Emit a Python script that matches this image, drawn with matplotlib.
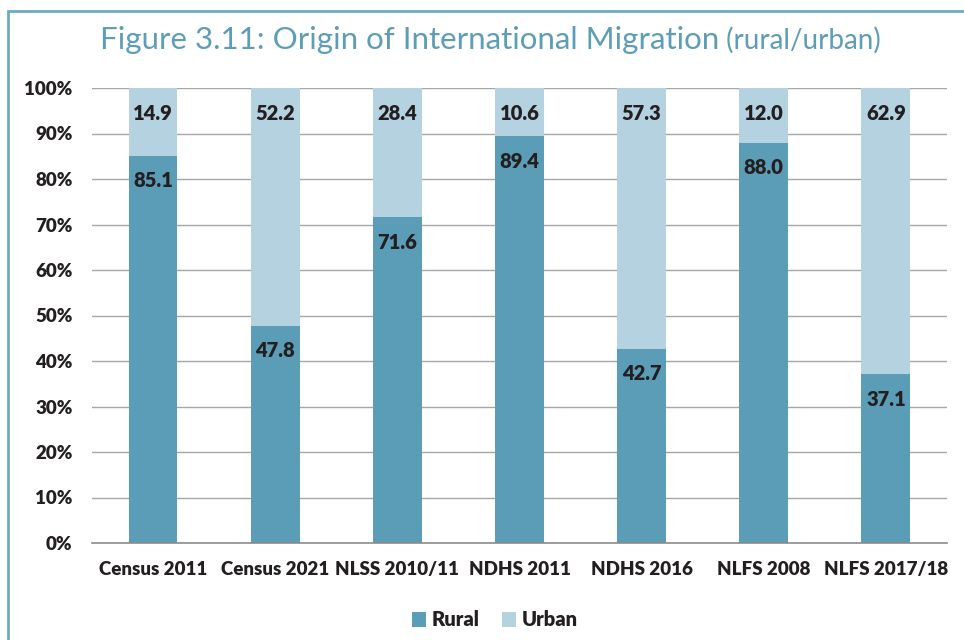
import numpy as np
import matplotlib.pyplot as plt
from matplotlib.patches import Rectangle

surveys = ["Census 2011", "Census 2021", "NLSS 2010/11", "NDHS 2011",
           "NDHS 2016", "NLFS 2008", "NLFS 2017/18"]
rural = [85.1, 47.8, 71.6, 89.4, 42.7, 88.0, 37.1]
urban = [14.9, 52.2, 28.4, 10.6, 57.3, 12.0, 62.9]

rural_color = "#5b9cb6"
urban_color = "#b5d2e1"
text_color = "#231f20"
teal = "#5e9db6"

plt.rcParams['font.family'] = ['Lato', 'DejaVu Sans']

fig = plt.figure(figsize=(9.64, 6.4), dpi=100)
ax = fig.add_axes([92 / 964, 1 - 543 / 640, 855 / 964, 455 / 640])

x = np.arange(len(surveys))
w = 0.40
b1 = ax.bar(x, rural, w, color=rural_color, label="Rural", zorder=2)
b2 = ax.bar(x, urban, w, bottom=rural, color=urban_color, label="Urban", zorder=2)

# value labels near the top of each segment
for i in range(len(surveys)):
    ax.text(x[i], rural[i] - 5.5, f"{rural[i]:.1f}", ha="center", va="center",
            fontsize=14.5, fontweight="heavy", color=text_color, zorder=3)
    ax.text(x[i], 100 - 5.5, f"{urban[i]:.1f}", ha="center", va="center",
            fontsize=14.5, fontweight="heavy", color=text_color, zorder=3)

ax.set_xlim(-0.5, len(surveys) - 0.5)
ax.set_ylim(0, 100)
ax.set_yticks(np.arange(0, 101, 10))
ax.set_yticklabels([f"{v}%" for v in range(0, 101, 10)])
ax.set_xticks(x)
ax.set_xticklabels(surveys)
ax.yaxis.grid(True, color="#a6a6a6", linewidth=1, zorder=0)
ax.set_axisbelow(True)
for s in ["left", "right", "top"]:
    ax.spines[s].set_visible(False)
ax.spines["bottom"].set_color("#8c8c8c")
ax.spines["bottom"].set_linewidth(1.2)
ax.tick_params(axis="both", length=0, labelsize=13.5, labelcolor=text_color)
ax.tick_params(axis="y", pad=14)
ax.tick_params(axis="x", pad=13)
for lab in ax.get_xticklabels() + ax.get_yticklabels():
    lab.set_fontweight("heavy")

leg = fig.legend(handles=[b1, b2], loc="center", bbox_to_anchor=(495 / 964, 1 - 620 / 640),
                 ncol=2, frameon=False, handlelength=0.7, handleheight=0.7,
                 handletextpad=0.3, columnspacing=1.1,
                 prop={"weight": "heavy", "size": 14.5})
for t in leg.get_texts():
    t.set_color(text_color)

# title, main part plus lighter suffix, centred together
ty = 1 - 40 / 640
t1 = fig.text(0, ty, "Figure 3.11: Origin of International Migration",
              ha="left", va="center", fontsize=22.5, color=teal)
t2 = fig.text(0, ty, " (rural/urban)", ha="left", va="center",
              fontsize=20, color=teal)
fig.canvas.draw()
w1 = t1.get_window_extent().width
w2 = t2.get_window_extent().width
start = 490 - (w1 + w2) / 2
t1.set_x(start / 964)
t2.set_x((start + w1) / 964)

# frame around the figure
fig.patches.append(Rectangle((8 / 964, -0.1), 1.2, 1 - 11 / 640 + 0.1,
                             transform=fig.transFigure, fill=False,
                             edgecolor="#6aaac4", linewidth=2))

fig.savefig("out.png", dpi=100)
